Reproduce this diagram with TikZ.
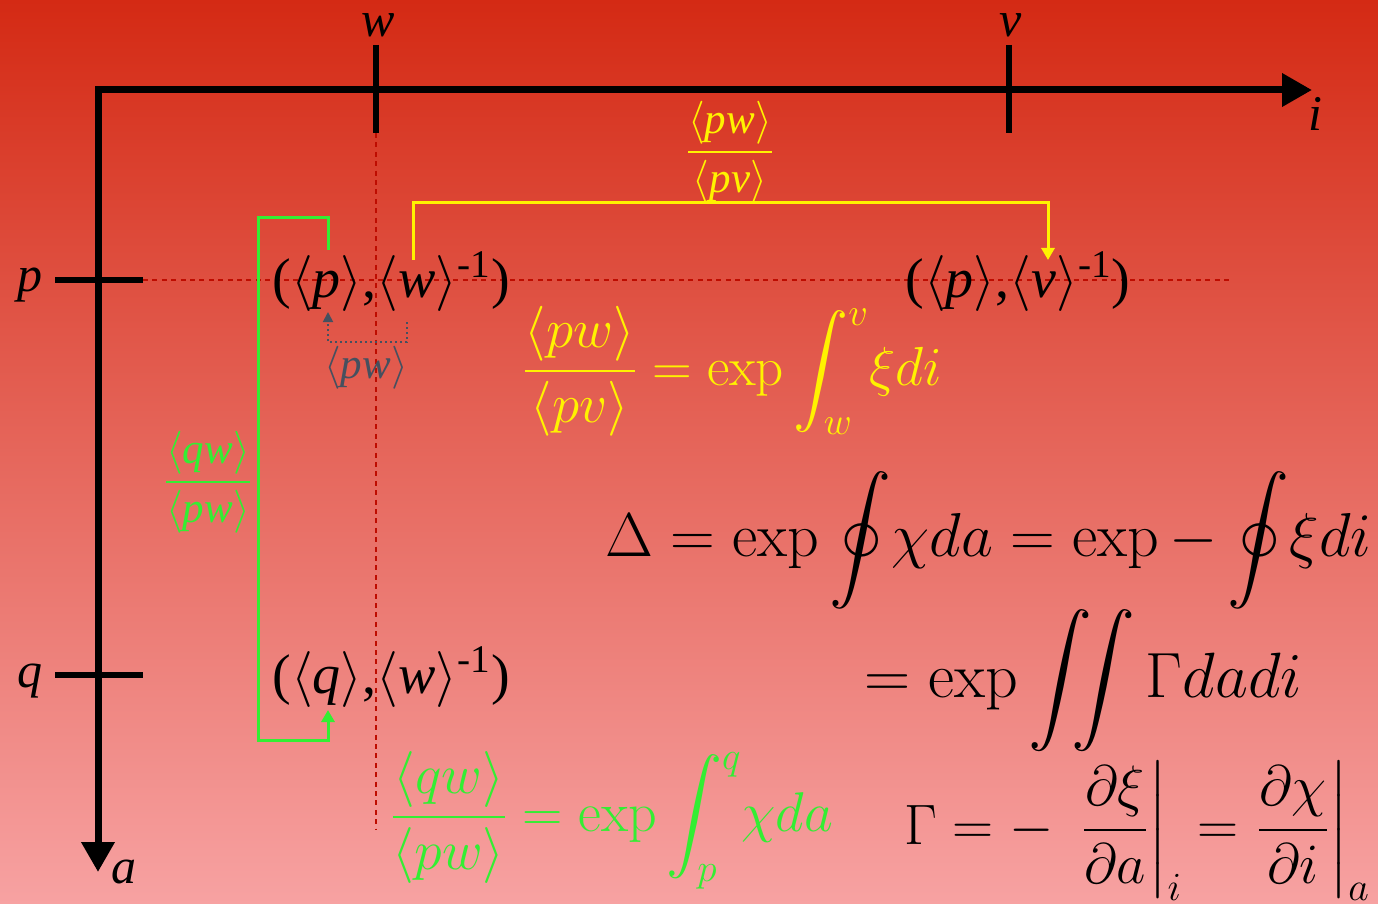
\RequirePackage{fix-cm}
\documentclass[tikz,border=0pt]{standalone}
\usepackage{amsmath,amssymb}
\usepackage[no-math]{fontspec}
\setmainfont{Liberation Serif}
\usetikzlibrary{arrows.meta,positioning,calc}
\definecolor{bgtop}{HTML}{D42A14}
\definecolor{bgmid}{HTML}{E8685A}
\definecolor{bgbot}{HTML}{F7A2A2}
\definecolor{ylw}{HTML}{FFF200}
\definecolor{grn}{HTML}{33EE33}
\definecolor{slate}{HTML}{46505F}
\definecolor{guide}{HTML}{BE0C00}
\newcommand{\ang}[1]{$\langle$\textit{#1}$\rangle$}
\newcommand{\tang}[1]{\langle\text{\itshape #1}\rangle}
\tikzset{
  % axes
  axis/.style={line width=3.5pt,miter limit=4,
               {Triangle[length=15pt,width=16pt]}-{Triangle[length=15pt,width=16pt]}},
  tickmark/.style={line width=3pt},
  alab/.style={font=\fontsize{25}{25}\selectfont\itshape,inner sep=0pt},
  guide/.style={draw=guide,line width=1.3pt,dash pattern=on 2.5pt off 2.2pt},
  % pairs and transports
  pair/.style={font=\fontsize{28}{28}\selectfont,inner sep=0pt,anchor=base west},
  yb/.style={draw=ylw,line width=1.5pt,-{Triangle[length=6pt,width=6.5pt]}},
  gb/.style={draw=grn,line width=1.5pt,-{Triangle[length=6pt,width=6.5pt]}},
  sb/.style={draw=slate,line width=0.9pt,dash pattern=on 0.9pt off 1.6pt,
             -{Triangle[length=5pt,width=5pt]}},
  frl/.style={font=\fontsize{21.5}{21.5}\selectfont,inner sep=0pt,anchor=base},
  % equations
  eq/.style={font=\fontsize{31}{31}\selectfont,inner sep=0pt,anchor=base west},
}

\begin{document}
\begin{tikzpicture}[x=0.5pt,y=-0.5pt]
  \useasboundingbox (0,0) rectangle (1378,904);
  \shade[top color=bgtop,middle color=bgmid,bottom color=bgbot] (0,0) rectangle (1378,904);
  % guide lines through w and p
  \draw[guide] (143,280) -- (1230,280);
  \draw[guide] (376,133) -- (376,830);
  % axes
  \coordinate (O) at (98,90);
  \coordinate (iend) at (1312,90);
  \coordinate (aend) at (98,872);
  \draw[axis] (iend) -- (O) -- (aend);
  \node[alab,anchor=base] (li) at (1315,131) {i};
  \node[alab,anchor=base] (la) at (124,883) {a};
  \foreach \n/\x in {w/376,v/1009} {
    \draw[tickmark] (\x,45) -- (\x,133);
    \node[alab,anchor=base] (l\n) at (\x+2,37) {\n};
  }
  \foreach \n/\y in {p/280,q/675} {
    \draw[tickmark] (55,\y) -- (143,\y);
    \node[alab,anchor=base] (l\n) at (30,\y+12) {\n};
  }
  % pairs
  \node[pair] (pw) at (272,298) {(\ang{p},\ang{w}\textsuperscript{-1})};
  \node[pair] (pv) at (905,298) {(\ang{p},\ang{v}\textsuperscript{-1})};
  \node[pair] (qw) at (272,693) {(\ang{q},\ang{w}\textsuperscript{-1})};
  % transport along i
  \coordinate (ys) at (413,260);
  \coordinate (ye) at (1048,260);
  \draw[yb] (ys) |- (730,203) -| (ye);
  \node[frl,text=ylw] (yfr) at (730,163) {$\dfrac{\tang{pw}}{\tang{pv}}$};
  % transport along a
  \coordinate (gs) at (328,250);
  \coordinate (ge) at (328,710);
  \draw[gb] (gs) |- (258,218) |- (328,740) -- (ge);
  \node[frl,text=grn] (gfr) at (208,493) {$\dfrac{\tang{qw}}{\tang{pw}}$};
  % normalisation
  \coordinate (ss) at (407,322);
  \coordinate (se) at (328,312);
  \draw[sb] (ss) |- (328,342) -- (se);
  \node[frl,text=slate] (sfr) at (366,379) {\ang{pw}};
  % equations
  \node[eq,text=ylw,font=\fontsize{27.5}{27.5}\selectfont] (eqi) at (522,385)
    {$\displaystyle \frac{\langle pw\rangle}{\langle pv\rangle} = \exp\int_w^v\!\xi di$};
  \node[eq,text=grn,font=\fontsize{28}{28}\selectfont] (eqa) at (390,831)
    {$\displaystyle \frac{\langle qw\rangle}{\langle pw\rangle} = \exp\int_p^q\!\chi da$};
  \node[eq] (eqd) at (605,556)
    {$\displaystyle \Delta = \exp\oint\!\chi da = \exp-\oint\!\xi di$};
  \node[eq,font=\fontsize{32}{32}\selectfont] (eqg) at (864,697)
    {$\displaystyle = \exp\iint\Gamma dadi$};
  \node[eq,font=\fontsize{28.5}{28.5}\selectfont] (eqc) at (904,844)
    {$\displaystyle \Gamma = -\;\left.\frac{\partial\xi}{\partial a}\right|_i
      = \left.\frac{\partial\chi}{\partial i}\right|_a$};
\end{tikzpicture}
\end{document}
